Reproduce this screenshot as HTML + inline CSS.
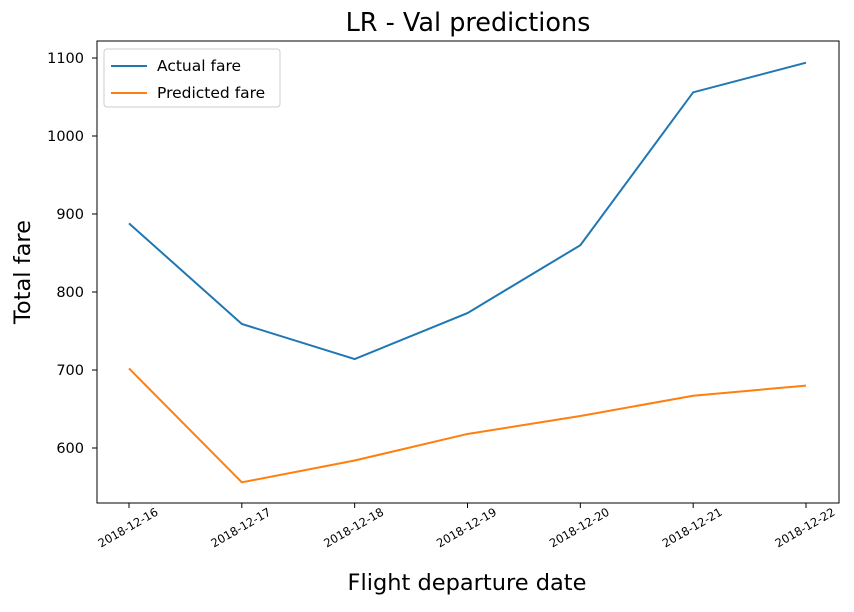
<!DOCTYPE html>
<html><head><meta charset="utf-8"><style>
body{margin:0;background:#fff;}
svg text{font-family:"DejaVu Sans","Liberation Sans",sans-serif;}
</style></head><body>
<svg id="chart" width="854" height="607" xmlns="http://www.w3.org/2000/svg">
<rect width="854" height="607" fill="#fff"/>
<text x="468" y="31" font-size="25.5" text-anchor="middle">LR - Val predictions</text>
<text x="467" y="590" font-size="22.5" text-anchor="middle">Flight departure date</text>
<text transform="translate(30,272) rotate(-90)" font-size="22.5" text-anchor="middle">Total fare</text>
<g id="ticks"></g>
<g id="lines"></g>
<rect x="97" y="41" width="742" height="462" fill="none" stroke="#000" stroke-width="1"/>
<g>
<rect x="104" y="49" width="176" height="58" rx="3" fill="#fff" stroke="#ccc"/>
<line x1="111" y1="66" x2="147" y2="66" stroke="#1f77b4" stroke-width="2"/>
<text x="157" y="71" font-size="15.5">Actual fare</text>
<line x1="111" y1="93" x2="147" y2="93" stroke="#ff7f0e" stroke-width="2"/>
<text x="157" y="98" font-size="15.5">Predicted fare</text>
</g>
</svg>
<script>
const categories=["2018-12-16","2018-12-17","2018-12-18","2018-12-19","2018-12-20","2018-12-21","2018-12-22"];
const actualFare=[888,759,714,773,860,1056,1094];
const predictedFare=[702,556,584,618,641,667,680];
const yTicks=[600,700,800,900,1000,1100];
const NS="http://www.w3.org/2000/svg";
function xScale(i){return 129+i*(806-129)/(categories.length-1);}
function yScale(v){return 448-(v-600)*0.78;}
const tg=document.getElementById('ticks');
function mk(tag,attrs,parent){const e=document.createElementNS(NS,tag);for(const k in attrs)e.setAttribute(k,attrs[k]);parent.appendChild(e);return e;}
yTicks.forEach(v=>{
  const y=yScale(v);
  const l=mk('line',{x1:92,x2:97,y1:y,y2:y,stroke:'#000'},tg);
  
  
  const t=mk('text',{x:84,y:y+5,'font-size':14.5,'text-anchor':'end'},tg);
  t.textContent=v;
  
  
});
categories.forEach((c,i)=>{
  const x=xScale(i);
  const l=mk('line',{x1:x,x2:x,y1:503,y2:508,stroke:'#000'},tg);
  
  
  const t=mk('text',{transform:`translate(${x+1},${531}) rotate(-30)`,'font-size':11.5,'text-anchor':'middle'},tg);
  t.textContent=c;
  
  
});
const lg=document.getElementById('lines');
function drawLine(vals,color,name){
  const p=mk('polyline',{points:vals.map((v,i)=>xScale(i)+','+yScale(v)).join(' '),fill:'none',stroke:color,'stroke-width':2},lg);
  
  
}
drawLine(actualFare,'#1f77b4','actual-fare-line');
drawLine(predictedFare,'#ff7f0e','predicted-fare-line');
</script>
</body></html>
